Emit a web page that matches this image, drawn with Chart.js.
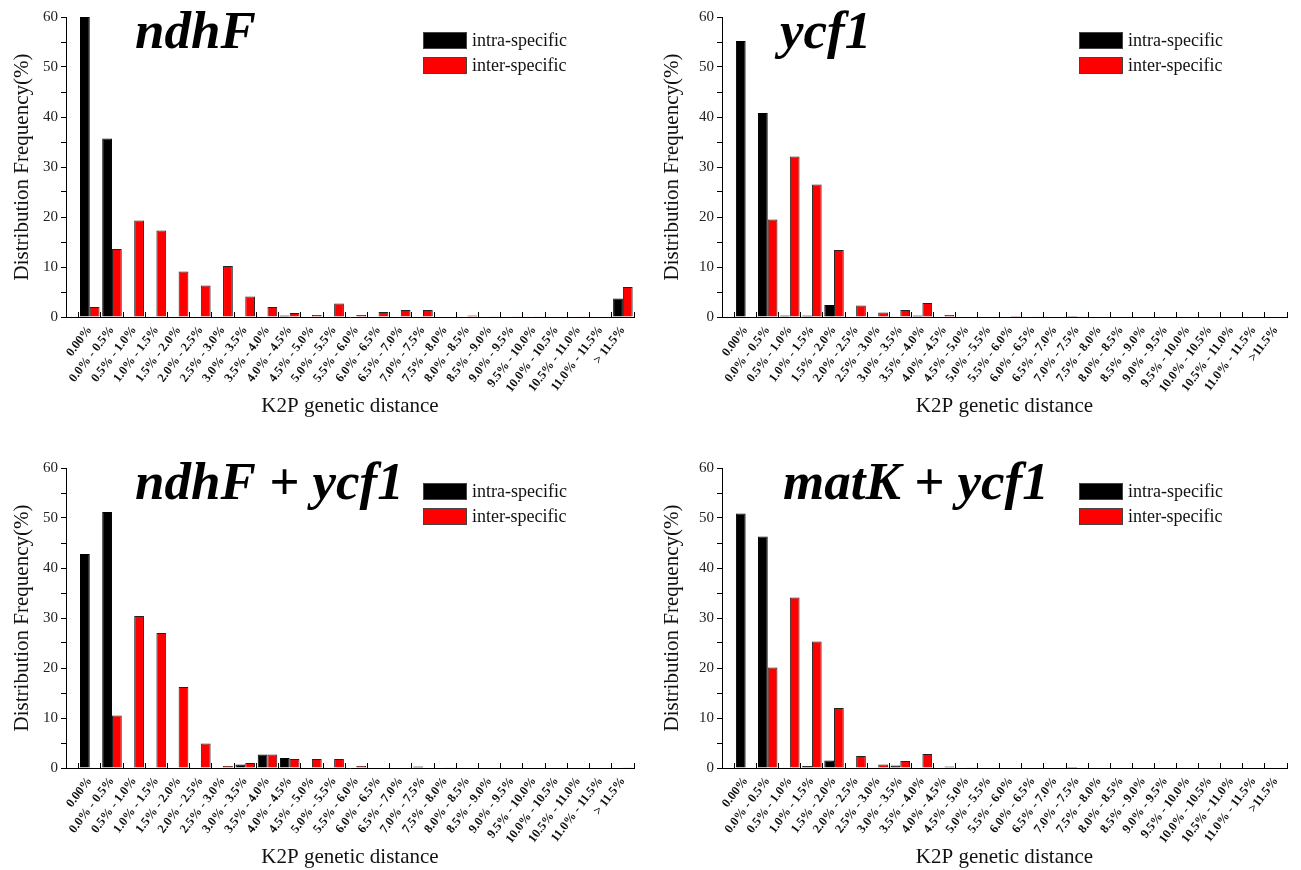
<!DOCTYPE html>
<html>
<head>
<meta charset="utf-8">
<script src="https://cdn.jsdelivr.net/npm/chart.js@4.4.1/dist/chart.umd.min.js"></script>
<style>
  body { margin: 0; background: #fff; }
  #wrap { position: relative; width: 1301px; height: 870px; overflow: hidden; }
  .panel { position: absolute; }
</style>
</head>
<body>
<div id="wrap">
  <div class="panel" style="left:0;top:0"><canvas id="chart1" width="650" height="419"></canvas></div>
  <div class="panel" style="left:650px;top:0"><canvas id="chart2" width="651" height="419"></canvas></div>
  <div class="panel" style="left:0;top:451px"><canvas id="chart3" width="650" height="419"></canvas></div>
  <div class="panel" style="left:650px;top:451px"><canvas id="chart4" width="651" height="419"></canvas></div>
</div>
<script>
// K2P distance bins
const binLabels = ['0.00%', '0.0% - 0.5%', '0.5% - 1.0%', '1.0% - 1.5%', '1.5% - 2.0%', '2.0% - 2.5%',
  '2.5% - 3.0%', '3.0% - 3.5%', '3.5% - 4.0%', '4.0% - 4.5%', '4.5% - 5.0%', '5.0% - 5.5%',
  '5.5% - 6.0%', '6.0% - 6.5%', '6.5% - 7.0%', '7.0% - 7.5%', '7.5% - 8.0%', '8.0% - 8.5%',
  '8.5% - 9.0%', '9.0% - 9.5%', '9.5% - 10.0%', '10.0% - 10.5%', '10.5% - 11.0%', '11.0% - 11.5%', '> 11.5%'];
const binLabelsB = binLabels.slice(0, -1).concat(['>11.5%']);

// ndhF
const ndhfIntra = [60, 35.7, 0, 0, 0, 0, 0, 0, 0, 0.3, 0, 0, 0, 0, 0, 0, 0, 0, 0, 0, 0, 0, 0, 0, 3.7];
const ndhfInter = [2.0, 13.6, 19.3, 17.3, 9.1, 6.3, 10.2, 4.1, 2.0, 0.8, 0.4, 2.7, 0.4, 1.0, 1.4, 1.4, 0.1, 0.3, 0.05, 0.05, 0.05, 0.1, 0.05, 0, 6.0];
// ycf1
const ycf1Intra = [55.2, 40.8, 0.3, 0.3, 2.4, 0, 0, 0, 0.3, 0, 0, 0, 0, 0, 0, 0.2, 0, 0, 0, 0, 0, 0, 0, 0, 0];
const ycf1Inter = [0.1, 19.5, 32.1, 26.5, 13.4, 2.3, 0.9, 1.4, 2.8, 0.4, 0, 0, 0.2, 0.05, 0, 0.05, 0, 0, 0, 0, 0, 0, 0, 0.1, 0];
// ndhF + ycf1
const ndhfYcf1Intra = [42.8, 51.2, 0, 0, 0, 0, 0, 0.7, 2.7, 2.0, 0, 0, 0, 0, 0, 0.3, 0, 0, 0, 0, 0, 0, 0, 0, 0];
const ndhfYcf1Inter = [0.1, 10.5, 30.4, 27.0, 16.2, 4.9, 0.4, 1.0, 2.7, 1.8, 1.8, 1.8, 0.4, 0.1, 0, 0, 0.05, 0, 0, 0, 0, 0, 0, 0, 0.15];
// matK + ycf1
const matkYcf1Intra = [50.9, 46.3, 0, 0.4, 1.5, 0, 0, 0.5, 0, 0, 0, 0, 0, 0, 0, 0.2, 0, 0, 0, 0, 0, 0, 0, 0, 0];
const matkYcf1Inter = [0.1, 20.1, 34.1, 25.3, 12.0, 2.4, 0.7, 1.4, 2.8, 0.3, 0.05, 0.1, 0, 0, 0, 0, 0, 0, 0, 0, 0, 0, 0, 0, 0];

const serif = "'Liberation Serif', 'Times New Roman', serif";

// big italic title + boxed legend inside the plot
const panelDecor = {
  id: 'panelDecor',
  afterDraw(chart, args, opts) {
    const ctx = chart.ctx;
    const area = chart.chartArea;
    ctx.save();
    ctx.fillStyle = '#000';
    ctx.font = 'italic bold 53px ' + serif;
    ctx.textBaseline = 'alphabetic';
    ctx.fillText(opts.title, opts.titleX, 48);

    ctx.font = '18px ' + serif;
    ctx.textBaseline = 'middle';
    chart.data.datasets.forEach((ds, i) => {
      const x = area.left + 357, y = 32 + i * 25;
      ctx.fillStyle = ds.backgroundColor;
      ctx.fillRect(x, y, 44, 17);
      ctx.strokeStyle = '#444';
      ctx.lineWidth = 1;
      ctx.strokeRect(x + 0.5, y + 0.5, 43, 16);
      ctx.fillStyle = '#111';
      ctx.fillText(ds.label, x + 49, y + 9);
    });
    ctx.restore();
  }
};

function makePanel(id, title, titleX, labels, intra, inter, axisWidth, rightPad) {
  const ctx = document.getElementById(id).getContext('2d');
  return new Chart(ctx, {
    type: 'bar',
    data: {
      labels: labels,
      datasets: [{
        label: 'intra-specific',
        data: intra,
        backgroundColor: '#000000',
        borderColor: '#000000',
        borderWidth: 1
      }, {
        label: 'inter-specific',
        data: inter,
        backgroundColor: '#ff0000',
        borderColor: '#222222',
        borderWidth: 1
      }]
    },
    options: {
      responsive: false,
      animation: false,
      datasets: { bar: { categoryPercentage: 0.88, barPercentage: 1 } },
      layout: { padding: { top: 17, right: rightPad, left: 0, bottom: 0 } },
      plugins: {
        legend: { display: false },
        tooltip: { enabled: false },
        panelDecor: { title: title, titleX: titleX }
      },
      scales: {
        x: {
          offset: true,
          grid: { offset: true, drawOnChartArea: false, tickLength: -5, color: '#000' },
          border: { color: '#000', width: 1 },
          ticks: {
            autoSkip: false, minRotation: 53, maxRotation: 53, padding: 11, color: '#111',
            font: { family: serif, size: 12.5, weight: 'bold' }
          },
          title: {
            display: true, text: 'K2P genetic distance', color: '#111',
            font: { family: serif, size: 21 }, padding: { top: 0, bottom: 0 }
          },
          // leave a small gap between the y axis and the first bin
          afterBuildTicks: s => { s._startValue -= 0.57; s._valueRange += 0.57; },
          afterFit: s => { s.height = 102; }
        },
        y: {
          min: 0, max: 60,
          ticks: {
            stepSize: 5, padding: 3, color: '#222',
            callback: v => v % 10 === 0 ? v : '',
            font: { family: serif, size: 15 }
          },
          grid: { drawOnChartArea: false, tickLength: 5, color: '#000' },
          border: { color: '#000', width: 1 },
          title: {
            display: true, text: 'Distribution Frequency(%)', color: '#111',
            font: { family: serif, size: 21 }, padding: { top: 10, bottom: 0 }
          },
          afterFit: s => { s.width = axisWidth; }
        }
      }
    },
    plugins: [panelDecor]
  });
}

const chart1 = makePanel('chart1', 'ndhF', 135, binLabels, ndhfIntra, ndhfInter, 66, 16);
const chart2 = makePanel('chart2', 'ycf1', 130, binLabelsB, ycf1Intra, ycf1Inter, 72, 14);
const chart3 = makePanel('chart3', 'ndhF + ycf1', 135, binLabels, ndhfYcf1Intra, ndhfYcf1Inter, 66, 16);
const chart4 = makePanel('chart4', 'matK + ycf1', 133, binLabelsB, matkYcf1Intra, matkYcf1Inter, 72, 14);
</script>
</body>
</html>
